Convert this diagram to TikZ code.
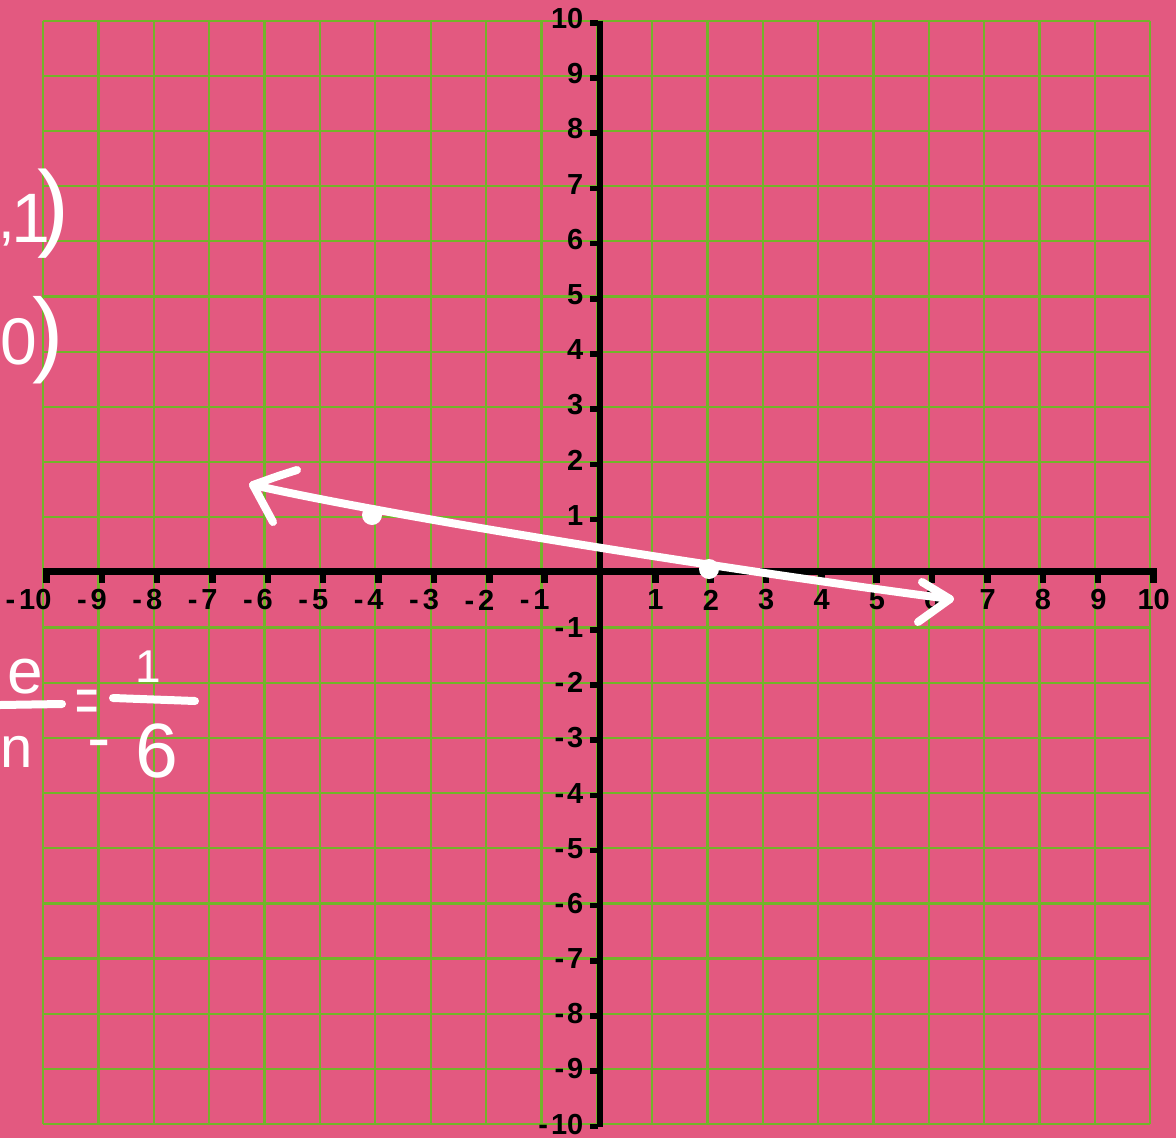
\documentclass[tikz,border=0pt]{standalone}
\usepackage{fontspec}
\setmainfont{Liberation Sans}
\definecolor{bgpink}{RGB}{227,89,128}
\definecolor{gridgreen}{RGB}{114,180,42}
\newcommand{\fs}[1]{\fontsize{#1}{#1}\selectfont}
\begin{document}
\begin{tikzpicture}[x=1pt,y=-1pt,
  gridline/.style={draw=gridgreen,line width=2.3pt},
  axisline/.style={draw=black,line width=6.5pt},
  tickmark/.style={fill=black},
  axlab/.style={font=\fontsize{29}{29}\selectfont\bfseries,inner sep=0pt},
  hand/.style={draw=white,line width=8pt,line cap=round,line join=round},
  handtext/.style={text=white,inner sep=0pt},
  dotnode/.style={circle,fill=white,minimum size=20pt,inner sep=0pt}]
\useasboundingbox[fill=bgpink] (0,0) rectangle (1176,1138);

% grid
\foreach \i in {-10,...,10}{
  \pgfmathsetmacro\gx{596.7+55.35*\i}
  \pgfmathsetmacro\gy{572.35-55.17*\i}
  \draw[gridline] (\gx,20.7) -- (\gx,1124);
  \draw[gridline] (43.3,\gy) -- (1150,\gy);
}

% axes
\draw[axisline] (43.3,571.7) -- (1157,571.7);
\draw[axisline] (600,20.7) -- (600,1127);

% ticks and labels
\foreach \i in {-10,...,-1,1,2,...,10}{
  \pgfmathsetmacro\gx{596.7+55.35*\i}
  \pgfmathsetmacro\gy{572.35-55.17*\i}
  \pgfmathtruncatemacro\ai{abs(\i)}
  \fill[tickmark] (\gx,574) rectangle ({\gx+6.5},583);
  \fill[tickmark] (590,{\gy-0.5}) rectangle (598,{\gy+5});
  \ifnum\i<0
    \node[axlab,anchor=east] (xlm\ai) at ({\gx+8.5},600) {-\kern4pt\ai};
    \node[axlab,anchor=east] (ylm\ai) at (583.5,\gy) {-\kern3pt\ai};
  \else
    \node[axlab] (xlp\i) at ({\gx+3.5},600) {\i};
    \node[axlab,anchor=east] (ylp\i) at (583.5,{\gy-2}) {\i};
  \fi
}

% hand-drawn line with arrows
\coordinate (Ltip) at (253,485);
\coordinate (Rtip) at (950,599);
\coordinate (Lu) at (297,470);
\coordinate (Ld) at (273,522);
\coordinate (Ru) at (922,582);
\coordinate (Rd) at (918,622);
\draw[hand] (Ltip) .. controls (380,514) and (700,566) .. (Rtip);
\draw[hand] (Lu) .. controls (278,476) .. (Ltip) -- (Ld);
\draw[hand] (Ru) -- (Rtip) -- (Rd);
\node[dotnode] (P1) at (372,515) {};
\node[dotnode] (P2) at (709,569) {};

% hand-written notes
\node[handtext,anchor=base west] (ptA) at (-2,238)
  {{\fs{60},}\kern-3.7pt\raisebox{-4pt}{\fs{70}1}\kern-13pt{\fs{96})}};
\node[handtext,anchor=base west] (ptB) at (0,364)
  {{\fs{66}0}\kern-4.7pt{\fs{94})}};

\node[handtext,font=\fs{64}] (ee) at (25,677) {e};
\node[handtext,font=\fs{58}] (nn) at (17,752) {n};
\coordinate (barAl) at (0,705);
\coordinate (barAr) at (62,704);
\draw[hand] (barAl) -- (barAr);
\node[handtext,font=\fs{40}] (eq) at (87,707) {\scalebox{1}[1.7]{=}};
\node[handtext,font=\fs{46}] (numone) at (148,667) {1};
\coordinate (barBl) at (113,698);
\coordinate (barBr) at (195,701);
\draw[hand] (barBl) -- (barBr);
\node[handtext,anchor=base west] (den) at (87,777)
  {\raisebox{16pt}{\fs{70}-}\kern25pt{\fs{77}6}};
\end{tikzpicture}
\end{document}
